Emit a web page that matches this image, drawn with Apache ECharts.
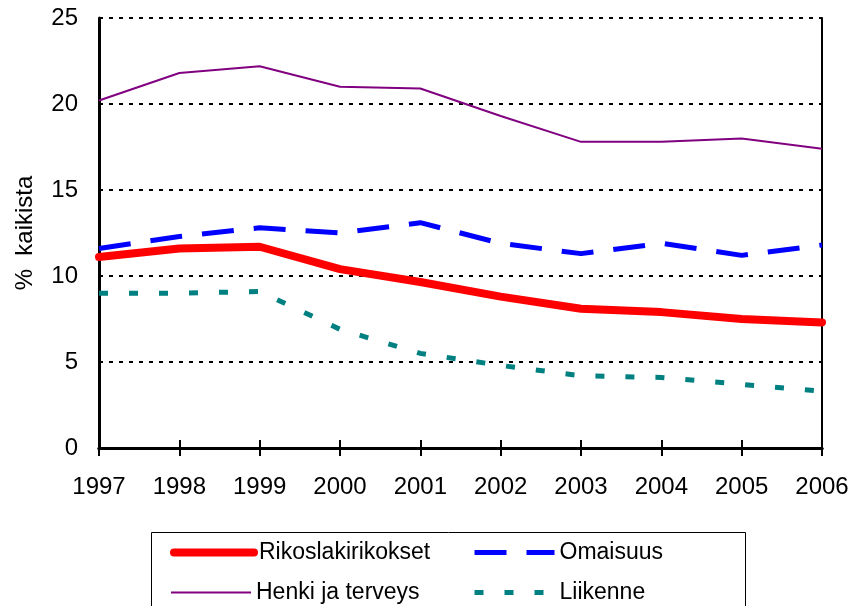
<!DOCTYPE html>
<html>
<head>
<meta charset="utf-8">
<script src="https://cdn.jsdelivr.net/npm/echarts@6/dist/echarts.min.js"></script>
<style>
html,body{margin:0;padding:0;background:#fff;}
#c{width:852px;height:606px;}
</style>
</head>
<body>
<div id="c"></div>
<script>
const years = ['1997','1998','1999','2000','2001','2002','2003','2004','2005','2006'];
const rikoslakirikokset = [11.1, 11.6, 11.7, 10.4, 9.65, 8.8, 8.1, 7.9, 7.5, 7.3];
const omaisuus = [11.6, 12.3, 12.8, 12.5, 13.1, 11.9, 11.3, 11.9, 11.2, 11.8];
const henki = [20.2, 21.8, 22.2, 21.0, 20.9, 19.3, 17.8, 17.8, 18.0, 17.4];
const liikenne = [9.0, 9.0, 9.1, 6.9, 5.5, 4.8, 4.2, 4.1, 3.7, 3.3];
const yTicks = [0, 5, 10, 15, 20, 25];

const chart = echarts.init(document.getElementById('c'), null, {renderer: 'canvas'});
const font = 'Liberation Sans, Arial, sans-serif';
const xBase = {
  type: 'category', data: years, boundaryGap: false, position: 'bottom',
  axisLine: {show: true, lineStyle: {color: '#000', width: 3}},
  splitLine: {show: false}
};
function legendAt(name, left, top, lineStyle) {
  return {
    orient: 'horizontal', left: left, top: top, itemWidth: 80, itemHeight: 14,
    padding: 0, itemStyle: {opacity: 0}, lineStyle: lineStyle,
    textStyle: {color: '#000', fontSize: 23, fontFamily: font},
    data: [name]
  };
}
chart.setOption({
  animation: false,
  backgroundColor: '#fff',
  grid: {left: 99, right: 30, top: 18, bottom: 158, containLabel: false},
  xAxis: [
    Object.assign({}, xBase, {
      axisTick: {show: true, inside: false, length: 8, lineStyle: {color: '#000', width: 2}},
      axisLabel: {color: '#000', fontSize: 24, fontFamily: font, margin: 27}
    }),
    Object.assign({}, xBase, {
      axisTick: {show: true, inside: true, length: 8, lineStyle: {color: '#000', width: 2}},
      axisLabel: {show: false}
    })
  ],
  yAxis: [
    {
      type: 'value', min: 0, max: 25, interval: 5,
      name: '%  kaikista', nameLocation: 'middle', nameGap: 62, nameRotate: 90,
      nameTextStyle: {color: '#000', fontSize: 24, fontFamily: font},
      axisLine: {show: true, lineStyle: {color: '#000', width: 3}},
      axisTick: {show: false},
      axisLabel: {color: '#000', fontSize: 24, fontFamily: font, margin: 21,
        formatter: v => yTicks.includes(v) ? String(v) : ''},
      splitLine: {show: true, lineStyle: {color: '#000', width: 2, type: [4, 6]}}
    },
    {
      type: 'value', min: 0, max: 25, interval: 5, position: 'right',
      axisLine: {show: true, lineStyle: {color: '#000', width: 2}},
      axisTick: {show: false}, axisLabel: {show: false}, splitLine: {show: false}
    }
  ],
  legend: [
    legendAt('Rikoslakirikokset', 170, 541, {width: 8, cap: 'round', type: 'solid'}),
    legendAt('Henki ja terveys', 170, 581, {width: 2, type: 'solid'}),
    legendAt('Omaisuus', 472, 541, {width: 5, type: [32, 20]}),
    legendAt('Liikenne', 472, 581, {width: 5, type: [9, 21]})
  ],
  graphic: [{
    type: 'rect', shape: {x: 151.5, y: 532.5, width: 594, height: 90},
    style: {fill: 'none', stroke: '#000', lineWidth: 1}, silent: true, z: -1
  }],
  series: [
    {name: 'Henki ja terveys', type: 'line', data: henki, symbol: 'none',
      lineStyle: {color: '#800080', width: 2}, itemStyle: {color: '#800080'}, z: 2},
    {name: 'Omaisuus', type: 'line', data: omaisuus, symbol: 'none',
      lineStyle: {color: '#0000ff', width: 5, type: [32, 20]}, itemStyle: {color: '#0000ff'}, z: 3},
    {name: 'Liikenne', type: 'line', data: liikenne, symbol: 'none',
      lineStyle: {color: '#008080', width: 5, type: [9, 21]}, itemStyle: {color: '#008080'}, z: 3},
    {name: 'Rikoslakirikokset', type: 'line', data: rikoslakirikokset, symbol: 'none',
      lineStyle: {color: '#ff0000', width: 8, cap: 'round'}, itemStyle: {color: '#ff0000'}, z: 4}
  ]
});
</script>
</body>
</html>
